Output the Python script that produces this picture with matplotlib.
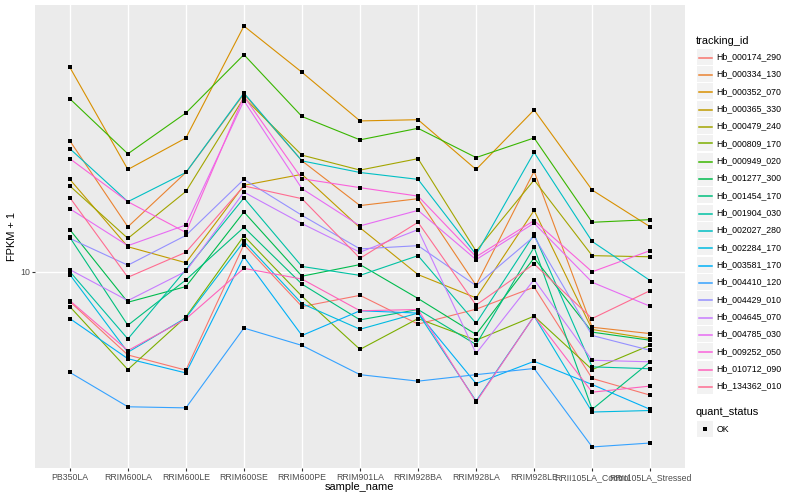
import numpy as np
import matplotlib
matplotlib.use("Agg")
import matplotlib.pyplot as plt
from matplotlib.lines import Line2D
from matplotlib.patches import Rectangle
from matplotlib.ticker import NullLocator

plt.rcParams["font.family"] = ["Liberation Sans", "DejaVu Sans"]

samples = ["PB350LA", "RRIM600LA", "RRIM600LE", "RRIM600SE", "RRIM600PE",
           "RRIM901LA", "RRIM928BA", "RRIM928LA", "RRIM928LE",
           "RRII105LA_Control", "RRII105LA_Stressed"]

tracking_ids = ["Hb_000174_290", "Hb_000334_130", "Hb_000352_070", "Hb_000365_330",
                "Hb_000479_240", "Hb_000809_170", "Hb_000949_020", "Hb_001277_300",
                "Hb_001454_170", "Hb_001904_030", "Hb_002027_280", "Hb_002284_170",
                "Hb_003581_170", "Hb_004410_120", "Hb_004429_010", "Hb_004645_070",
                "Hb_004785_030", "Hb_009252_050", "Hb_010712_090", "Hb_134362_010"]

# ggplot hue palette, 20 levels
colors = ["#F8766D", "#EA8331", "#D89000", "#C09B00", "#A3A500", "#7CAE00",
          "#39B600", "#00BB4E", "#00BF7D", "#00C1A3", "#00BFC4", "#00BAE0",
          "#00B0F6", "#35A2FF", "#9590FF", "#C77CFF", "#E76BF3", "#FA62DB",
          "#FF62BC", "#FF6C91"]

# FPKM + 1 per sample
hb_000174_290 = [7.94, 5.27, 4.69, 12.3, 7.64, 8.33, 6.68, 7.49, 8.87, 4.40, 3.87]
hb_000334_130 = [27.3, 14.1, 21.4, 39.1, 23.4, 16.6, 17.5, 9.00, 21.6, 6.52, 6.21]
hb_000352_070 = [48.0, 21.9, 27.9, 65.9, 46.2, 31.8, 32.1, 21.9, 34.6, 18.7, 14.1]
hb_000365_330 = [20.3, 12.1, 10.7, 19.4, 21.1, 14.0, 9.77, 8.17, 16.0, 6.41, 5.97]
hb_000479_240 = [19.3, 12.9, 18.5, 38.0, 24.45, 21.8, 23.8, 11.7, 20.2, 11.3, 11.2]
hb_000809_170 = [7.64, 4.71, 7.06, 13.15, 8.27, 5.50, 6.97, 5.90, 7.10, 4.71, 5.68]
hb_000949_020 = [37.7, 24.7, 33.8, 52.9, 32.9, 27.5, 30.05, 24.0, 27.9, 14.6, 14.9]
hb_001277_300 = [13.8, 7.90, 8.91, 15.8, 9.65, 10.55, 8.13, 6.17, 11.1, 6.28, 5.90]
hb_001454_170 = [13.0, 6.62, 9.38, 14.05, 9.08, 6.90, 7.47, 5.71, 12.05, 3.47, 5.00]
hb_001904_030 = [10.0, 5.96, 10.15, 17.6, 10.4, 9.71, 11.3, 6.72, 13.3, 4.81, 4.74]
hb_002027_280 = [25.7, 17.1, 21.4, 39.4, 23.4, 21.4, 20.3, 11.4, 24.97, 12.6, 9.33]
hb_002284_170 = [9.77, 5.38, 7.01, 12.6, 7.82, 6.42, 7.27, 3.70, 7.10, 3.40, 3.44]
hb_003581_170 = [6.97, 5.12, 4.59, 11.2, 6.12, 7.40, 7.27, 4.23, 5.02, 4.20, 3.47]
hb_004410_120 = [4.61, 3.54, 3.51, 6.48, 5.67, 4.53, 4.31, 4.53, 4.75, 2.60, 2.68]
hb_004429_010 = [12.9, 10.5, 13.2, 20.3, 15.4, 11.9, 12.2, 8.98, 13.1, 6.12, 5.46]
hb_004645_070 = [10.15, 8.0, 10.02, 18.4, 14.45, 11.6, 13.8, 5.33, 9.40, 5.06, 5.00]
hb_004785_030 = [16.2, 12.2, 14.3, 37.15, 18.9, 14.2, 16.0, 10.96, 14.5, 9.21, 7.66]
hb_009252_050 = [23.8, 17.1, 13.5, 38.4, 20.4, 19.05, 17.85, 11.2, 14.8, 9.98, 11.75]
hb_010712_090 = [8.0, 5.45, 6.95, 10.25, 9.44, 7.40, 7.47, 3.67, 7.10, 3.96, 4.15]
hb_134362_010 = [17.65, 9.57, 11.6, 19.3, 17.5, 11.07, 14.6, 7.73, 10.6, 6.97, 8.64]

series = [hb_000174_290, hb_000334_130, hb_000352_070, hb_000365_330, hb_000479_240,
          hb_000809_170, hb_000949_020, hb_001277_300, hb_001454_170, hb_001904_030,
          hb_002027_280, hb_002284_170, hb_003581_170, hb_004410_120, hb_004429_010,
          hb_004645_070, hb_004785_030, hb_009252_050, hb_010712_090, hb_134362_010]

W, H = 800, 500
def fx(px): return px / W
def fy(py): return 1 - py / H

fig = plt.figure(figsize=(8, 5), dpi=100)
ax = fig.add_axes([fx(35), fy(468), 650 / W, 463 / H])
ax.set_facecolor("#EBEBEB")

x = np.arange(len(samples))
for vals, c in zip(series, colors):
    ax.plot(x, vals, color=c, lw=0.8, zorder=2)
for vals in series:
    ax.plot(x, vals, ls="none", marker="s", ms=2.5, mew=0, color="black", zorder=3)

ax.set_yscale("log")
ax.set_xlim(-0.6, len(samples) - 0.4)
allv = np.concatenate([np.asarray(s) for s in series])
lo, hi = np.log10(allv.min()), np.log10(allv.max())
pad = 0.05 * (hi - lo)
ax.set_ylim(10 ** (lo - pad), 10 ** (hi + pad))
ax.set_yticks([10])
ax.set_yticklabels(["10"])
ax.yaxis.set_minor_locator(NullLocator())
ax.set_xticks(x)
ax.set_xticklabels(samples)

ax.grid(True, which="major", color="white", lw=1.0)
ax.set_axisbelow(True)
for s in ax.spines.values():
    s.set_visible(False)
ax.tick_params(length=2, width=0.8, color="#333333", labelsize=6.3,
               labelcolor="#4D4D4D", pad=1.5)

fig.text(fx(359), fy(487), "sample_name", fontsize=7.9, ha="center", va="center")
fig.text(fx(12), fy(236.5), "FPKM + 1", fontsize=7.9, ha="center", va="center", rotation=90)

# legend, ggplot style
fig.text(fx(696), fy(40.5), "tracking_id", fontsize=7.9, va="center")
for i, (tid, c) in enumerate(zip(tracking_ids, colors)):
    yc = 56.7 + 17.33 * i
    fig.add_artist(Rectangle((fx(697), fy(yc + 8)), 16 / W, 16 / H, transform=fig.transFigure,
                             facecolor="#F2F2F2", edgecolor="none"))
    fig.add_artist(Line2D([fx(698.5), fx(711.5)], [fy(round(yc) + 0.5)] * 2,
                          transform=fig.transFigure, color=c, lw=1.1))
    fig.text(fx(716.5), fy(yc), tid, fontsize=6.3, va="center")

fig.text(fx(696), fy(412.3), "quant_status", fontsize=7.9, va="center")
fig.add_artist(Rectangle((fx(697), fy(437)), 16 / W, 16 / H, transform=fig.transFigure,
                         facecolor="#F2F2F2", edgecolor="none"))
fig.add_artist(Line2D([fx(705)], [fy(429)], transform=fig.transFigure, ls="none",
                      marker="s", ms=2.5, mew=0, color="black"))
fig.text(fx(716.5), fy(429), "OK", fontsize=6.3, va="center")

fig.savefig("out.png", dpi=100)
